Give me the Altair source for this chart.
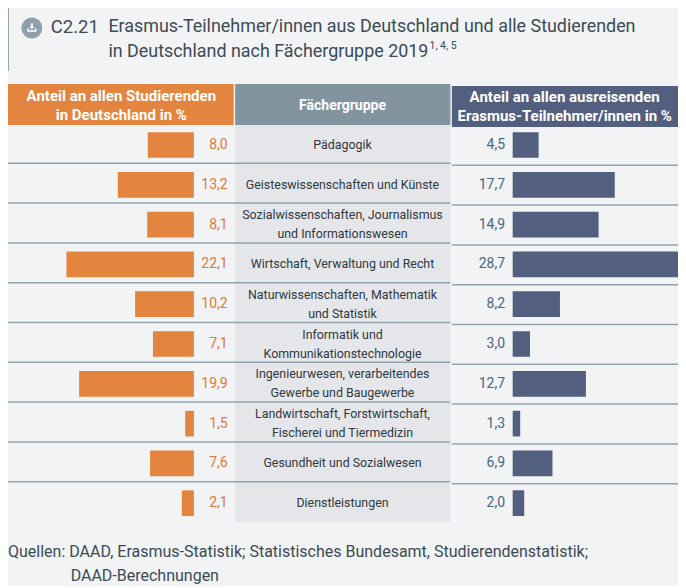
import altair as alt
import pandas as pd

categories = ["Pädagogik", "Geisteswissenschaften und Künste",
              "Sozialwissenschaften, Journalismus\nund Informationswesen",
              "Wirtschaft, Verwaltung und Recht",
              "Naturwissenschaften, Mathematik\nund Statistik",
              "Informatik und\nKommunikationstechnologie",
              "Ingenieurwesen, verarbeitendes\nGewerbe und Baugewerbe",
              "Landwirtschaft, Forstwirtschaft,\nFischerei und Tiermedizin",
              "Gesundheit und Sozialwesen", "Dienstleistungen"]
studierende = [8.0, 13.2, 8.1, 22.1, 10.2, 7.1, 19.9, 1.5, 7.6, 2.1]
erasmus = [4.5, 17.7, 14.9, 28.7, 8.2, 3.0, 12.7, 1.3, 6.9, 2.0]

FONT = "Roboto"
BG = "#f2f3f5"
ORANGE = "#e3853e"
NAVY = "#525f7f"
SLATE = "#82959f"
RULE = "#92a3ad"
TEXT = "#3c4a54"

df = pd.DataFrame({
    "cat": categories, "s": studierende, "e": erasmus,
    "sl": [f"{v:.1f}".replace(".", ",") for v in studierende],
    "el": [f"{v:.1f}".replace(".", ",") for v in erasmus],
    "lines": [c.split("\n") for c in categories],
    "two": ["\n" in c for c in categories],
})
one = alt.Data(values=[{"a": 1}])
OY = 8
SX = 670 / 674


def px(x):
    return (x - 8) * SX


def box(x0, x1, y0, y1, color):
    return alt.Chart(one).mark_rect(color=color).encode(
        x=alt.value(px(x0)), x2=alt.value(px(x1)),
        y=alt.value(y0 - OY), y2=alt.value(y1 - OY))


def txt(s, x, y, size, color=TEXT, align="left", weight="normal", lh=None, font=FONT):
    kw = dict(lineHeight=lh) if lh else {}
    return alt.Chart(one).mark_text(
        font=font, fontSize=size, color=color, align=align, baseline="middle",
        fontWeight=weight, lineBreak="\n", **kw
    ).encode(x=alt.value(px(x)), y=alt.value(y - OY), text=alt.value(s))


yenc = alt.Y("cat:N", sort=None, axis=None,
             scale=alt.Scale(domain=categories, range=[125.1 - OY, 523.1 - OY], paddingInner=0, paddingOuter=0))
U = 5.8 * SX
Xl = alt.X("s:Q", axis=None, scale=alt.Scale(domain=[0, 30], range=[px(195), px(195) - 30 * U], nice=False))
Xr = alt.X("e:Q", axis=None, scale=alt.Scale(domain=[0, 30], range=[px(515.7), px(515.7) + 30 * U], nice=False))
base = alt.Chart(df)
rows = base.transform_filter(alt.datum.cat != categories[-1])
lab = dict(font=FONT, fontSize=12.4, color="#2f3940", align="center", baseline="middle", lineHeight=19)

layers = [
    box(8, 686, 5, 6.5, RULE), box(8, 9, 5, 71, RULE),
    alt.Chart(one).mark_circle(color="#8fa0aa", size=440, opacity=1).encode(x=alt.value(px(32)), y=alt.value(28 - OY)),
    alt.Chart(one).mark_point(
        shape="M-0.2,-0.8L0.2,-0.8L0.2,-0.25L0.5,-0.25L0,0.25L-0.5,-0.25L-0.2,-0.25Z"
              "M-0.85,0.05L-0.6,0.05L-0.6,0.4L0.6,0.4L0.6,0.05L0.85,0.05L0.85,0.7L-0.85,0.7Z",
        filled=True, color="white", size=120, opacity=1, strokeWidth=0
    ).encode(x=alt.value(px(32)), y=alt.value(28 - OY)),
    txt("C2.21", 51, 27, 18.5),
    txt("Erasmus-Teilnehmer/innen aus Deutschland und alle Studierenden", 109, 27, 17.9),
    txt("in Deutschland nach Fächergruppe 2019", 109, 52, 17.9),
    txt("1, 4, 5", 432, 46, 10.5),
    box(8, 235, 84, 125, ORANGE), box(236.5, 453, 84, 125, SLATE), box(454.5, 682, 86, 127, NAVY),
    box(236.5, 453, 125, 522, "#e4e6ea"),
    txt("Anteil an allen Studierenden\nin Deutschland in %", 122, 96, 15, "white", "center", "bold", 19),
    txt("Fächergruppe", 344.5, 106, 14, "white", "center", "bold"),
    txt("Anteil an allen ausreisenden\nErasmus-Teilnehmer/innen in %", 568, 97, 15, "white", "center", "bold", 19),
    rows.mark_rule(color=RULE, strokeWidth=1.5, yOffset=18.3).encode(
        y=yenc, x=alt.value(0), x2=alt.value(px(453))),
    rows.mark_rule(color=RULE, strokeWidth=1.5, yOffset=20.3).encode(
        y=yenc, x=alt.value(px(454.5)), x2=alt.value(px(682))),
    base.mark_bar(color=ORANGE, size=25.7).encode(x=Xl, y=yenc),
    base.mark_bar(color=NAVY, size=25.7).encode(x=Xr, y=yenc),
    base.mark_text(font=FONT, fontSize=14, color="#de7a35", align="right", baseline="middle").encode(
        x=alt.value(px(229)), y=yenc, text="sl:N"),
    base.mark_text(font=FONT, fontSize=14, color="#4a6584", align="right", baseline="middle").encode(
        x=alt.value(px(508)), y=yenc, text="el:N"),
    base.transform_filter("!datum.two").mark_text(**lab).encode(
        x=alt.value(px(344.5)), y=yenc, text="lines:N"),
    base.transform_filter("datum.two").mark_text(dy=-9.5, **lab).encode(
        x=alt.value(px(344.5)), y=yenc, text="lines:N"),
    txt("Quellen: DAAD, Erasmus-Statistik; Statistisches Bundesamt, Studierendenstatistik;", 8, 552, 16),
    txt("DAAD-Berechnungen", 71, 576, 16),
]

chart = alt.layer(*layers).resolve_scale(x="independent").properties(
    width=670, height=578, padding=0, background=BG,
    autosize=alt.AutoSizeParams(type="none")
).configure_view(stroke=None)

chart.save("out.html", embed_options={"renderer": "svg", "actions": False})
